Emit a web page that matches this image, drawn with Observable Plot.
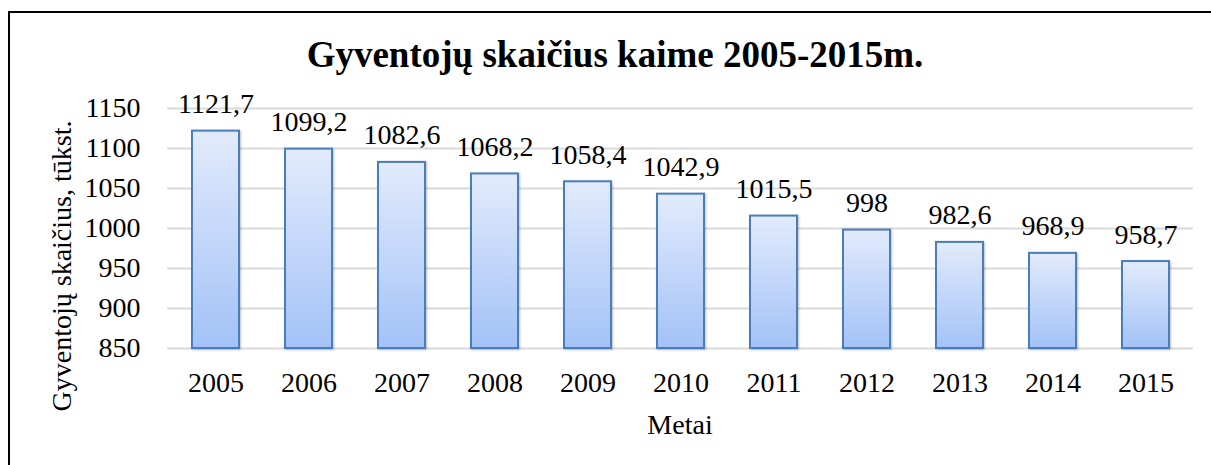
<!DOCTYPE html>
<html><head><meta charset="utf-8">
<script src="https://cdn.jsdelivr.net/npm/d3@7"></script>
<script src="https://cdn.jsdelivr.net/npm/@observablehq/plot@0.6"></script>
<style>
body{margin:0;background:#fff;}
#wrap{position:relative;width:1211px;height:465px;overflow:hidden;font-family:"Liberation Serif","Times New Roman",serif;color:#000;}
#frame{position:absolute;left:8px;top:11px;width:1300px;height:600px;border:2px solid #000;box-sizing:border-box;}
#title{position:absolute;left:0;width:1230px;top:36px;text-align:center;font-weight:bold;font-size:37px;line-height:1;white-space:nowrap;}
#ylab{position:absolute;left:62px;top:266px;transform:translate(-50%,-50%) rotate(-90deg);font-size:28px;line-height:1;white-space:nowrap;}
#xlab{position:absolute;left:680px;top:425px;transform:translate(-50%,-50%);font-size:28px;line-height:1;white-space:nowrap;}
#chart{position:absolute;left:0;top:0;}
#chart svg, #chart svg text, #chart svg g{font-family:"Liberation Serif","Times New Roman",serif !important;font-size:28px !important;fill-opacity:1;}
#chart svg text{fill:#000;}
g[aria-label="bar"] rect{filter:drop-shadow(1.5px 1.5px 1px rgba(0,0,0,0.25));}
</style>
</head><body>
<div id="wrap">
  <div id="frame"></div>
  <div id="title">Gyventojų skaičius kaime 2005-2015m.</div>
  <div id="ylab">Gyventojų skaičius, tūkst.</div>
  <div id="xlab">Metai</div>
  <div id="chart"></div>
</div>
<script>
const years = ["2005","2006","2007","2008","2009","2010","2011","2012","2013","2014","2015"];
const values = [1121.7,1099.2,1082.6,1068.2,1058.4,1042.9,1015.5,998,982.6,968.9,958.7];
const yTicks = [850,900,950,1000,1050,1100,1150];

const data = years.map((y,i)=>({year:y, value:values[i]}));
const fmt = v => String(v).replace(".", ",");

const defs = () => {
  const d = d3.create("svg:defs");
  const g = d.append("linearGradient").attr("id","barGrad").attr("x1",0).attr("y1",0).attr("x2",0).attr("y2",1);
  g.append("stop").attr("offset","0%").attr("stop-color","#e2ebfc");
  g.append("stop").attr("offset","100%").attr("stop-color","#a3c2f7");
  return d.node();
};

const chart = Plot.plot({
  width:1211, height:465,
  marginTop:108, marginBottom:117, marginLeft:167, marginRight:18,
  style:{fontFamily:'"Liberation Serif","Times New Roman",serif', fontSize:"28px", color:"#000", background:"transparent", overflow:"visible"},
  x:{domain:years, paddingInner:0.5, paddingOuter:0.25, label:null, tickSize:0, tickPadding:24},
  y:{domain:[850,1150], ticks:yTicks, tickFormat:d=>String(d), label:null, tickSize:0, tickPadding:27},
  marks:[
    defs,
    Plot.gridY(yTicks, {stroke:"#d9d9d9", strokeWidth:2, strokeOpacity:1}),
    Plot.barY(data, {x:"year", y1:850, y2:"value", fill:"url(#barGrad)", stroke:"#4a7ebb", strokeWidth:2}),
    Plot.text(data, {x:"year", y:"value", text:d=>fmt(d.value), lineAnchor:"middle", dy:-27, fontSize:28, fill:"#000"})
  ]
});
document.getElementById("chart").appendChild(chart);
</script>
</body></html>
